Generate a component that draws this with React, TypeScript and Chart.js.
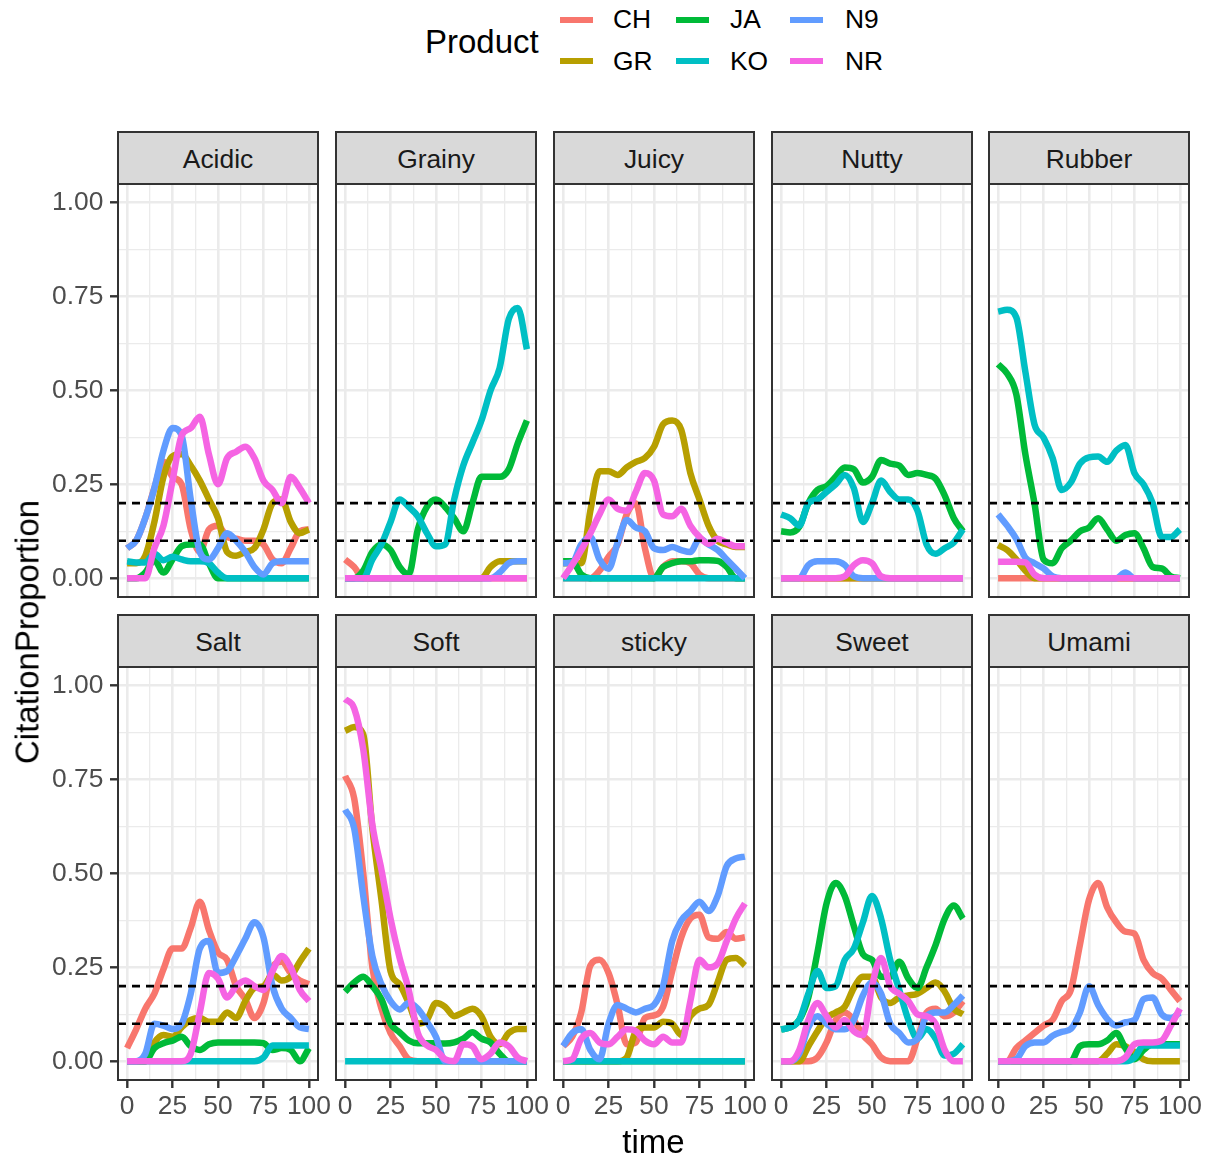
import React, { useEffect, useRef } from "react";
import { Chart, registerables } from "chart.js";

Chart.register(...registerables);

// ---- data -------------------------------------------------------------

const TIME = [0, 5, 10, 15, 20, 25, 30, 35, 40, 45, 50, 55, 60, 65, 70, 75, 80, 85, 90, 95, 100];

const PRODUCTS = ["CH", "GR", "JA", "KO", "N9", "NR"];
const PRODUCT_COLORS = ["#F8766D", "#B79F00", "#00BA38", "#00BFC4", "#619CFF", "#F564E3"];

const ATTRIBUTES = ["Acidic", "Grainy", "Juicy", "Nutty", "Rubber", "Salt", "Soft", "sticky", "Sweet", "Umami"];

// reference levels drawn as dashed lines in every panel
const THRESHOLDS = [0.1, 0.2];

const X_TICKS = [0, 25, 50, 75, 100];
const X_GRID = [0, 12.5, 25, 37.5, 50, 62.5, 75, 87.5, 100];
const Y_TICKS = [0, 0.25, 0.5, 0.75, 1];
const Y_GRID = [0, 0.125, 0.25, 0.375, 0.5, 0.625, 0.75, 0.875, 1];

// Acidic
const acidicCH = [0.08, 0.10, 0.16, 0.24, 0.31, 0.27, 0.25, 0.13, 0.07, 0.13, 0.14, 0.11, 0.105, 0.10, 0.10, 0.09, 0.05, 0.04, 0.08, 0.125, 0.13];
const acidicGR = [0.04, 0.04, 0.06, 0.15, 0.27, 0.325, 0.33, 0.30, 0.26, 0.21, 0.16, 0.07, 0.06, 0.07, 0.08, 0.13, 0.20, 0.21, 0.15, 0.12, 0.13];
const acidicJA = [0, 0, 0.015, 0.048, 0.015, 0.05, 0.085, 0.09, 0.09, 0.04, 0, 0, 0, 0, 0, 0, 0, 0, 0, 0, 0];
const acidicKO = [0.045, 0.042, 0.042, 0.065, 0.048, 0.057, 0.05, 0.045, 0.045, 0.04, 0.015, 0, 0, 0, 0, 0, 0, 0, 0, 0, 0];
const acidicN9 = [0.08, 0.10, 0.16, 0.24, 0.34, 0.40, 0.38, 0.21, 0.07, 0.05, 0.08, 0.12, 0.10, 0.07, 0.03, 0.01, 0.04, 0.045, 0.045, 0.045, 0.045];
const acidicNR = [0, 0, 0, 0.08, 0.14, 0.26, 0.38, 0.40, 0.43, 0.33, 0.25, 0.32, 0.337, 0.35, 0.32, 0.26, 0.235, 0.20, 0.27, 0.24, 0.20];

// Grainy
const grainyCH = [0.05, 0.03, 0, 0, 0, 0, 0, 0, 0, 0, 0, 0, 0, 0, 0, 0, 0, 0, 0, 0, 0];
const grainyGR = [0, 0, 0, 0, 0, 0, 0, 0, 0, 0, 0, 0, 0, 0, 0, 0, 0.03, 0.045, 0.045, 0.045, 0.045];
const grainyJA = [0, 0, 0.02, 0.07, 0.09, 0.075, 0.03, 0.01, 0.13, 0.19, 0.21, 0.19, 0.16, 0.125, 0.20, 0.27, 0.27, 0.27, 0.29, 0.36, 0.42];
const grainyKO = [0, 0, 0, 0.05, 0.09, 0.15, 0.21, 0.19, 0.165, 0.12, 0.085, 0.09, 0.21, 0.30, 0.36, 0.42, 0.50, 0.56, 0.69, 0.72, 0.61];
const grainyN9 = [0, 0, 0, 0, 0, 0, 0, 0, 0, 0, 0, 0, 0, 0, 0, 0, 0, 0.015, 0.04, 0.045, 0.045];
const grainyNR = [0, 0, 0, 0, 0, 0, 0, 0, 0, 0, 0, 0, 0, 0, 0, 0, 0, 0, 0, 0, 0];

// Juicy
const juicyCH = [0, 0, 0, 0, 0.02, 0.057, 0.09, 0.17, 0.20, 0.08, 0, 0.03, 0.045, 0.045, 0.04, 0.01, 0, 0, 0, 0, 0];
const juicyGR = [0.04, 0.04, 0.04, 0.18, 0.285, 0.285, 0.275, 0.295, 0.31, 0.32, 0.35, 0.41, 0.42, 0.395, 0.28, 0.21, 0.14, 0.10, 0.09, 0.083, 0.083];
const juicyJA = [0.045, 0.045, 0.01, 0, 0, 0, 0, 0, 0, 0, 0, 0.03, 0.04, 0.045, 0.045, 0.048, 0.048, 0.046, 0.03, 0, 0];
const juicyKO = [0, 0, 0, 0, 0, 0, 0, 0, 0, 0, 0, 0, 0, 0, 0, 0, 0, 0, 0, 0, 0];
const juicyN9 = [0.04, 0.042, 0.09, 0.11, 0.05, 0.025, 0.095, 0.155, 0.135, 0.125, 0.08, 0.075, 0.083, 0.075, 0.07, 0.105, 0.09, 0.075, 0.05, 0.025, 0];
const juicyNR = [0, 0.035, 0.075, 0.12, 0.17, 0.21, 0.185, 0.18, 0.23, 0.28, 0.26, 0.17, 0.165, 0.185, 0.14, 0.11, 0.092, 0.105, 0.095, 0.085, 0.085];

// Nutty
const nuttyCH = [0, 0, 0, 0, 0, 0, 0, 0, 0, 0, 0, 0, 0, 0, 0, 0, 0, 0, 0, 0, 0];
const nuttyGR = [0, 0, 0, 0, 0, 0, 0, 0, 0, 0, 0, 0, 0, 0, 0, 0, 0, 0, 0, 0, 0];
const nuttyJA = [0.125, 0.122, 0.137, 0.20, 0.235, 0.245, 0.27, 0.295, 0.29, 0.255, 0.27, 0.315, 0.305, 0.30, 0.275, 0.28, 0.275, 0.265, 0.22, 0.16, 0.125];
const nuttyKO = [0.17, 0.16, 0.14, 0.20, 0.21, 0.23, 0.25, 0.275, 0.24, 0.15, 0.20, 0.26, 0.23, 0.21, 0.21, 0.18, 0.09, 0.065, 0.08, 0.095, 0.13];
const nuttyN9 = [0, 0, 0, 0.035, 0.045, 0.045, 0.045, 0.035, 0.005, 0, 0, 0, 0, 0, 0, 0, 0, 0, 0, 0, 0];
const nuttyNR = [0, 0, 0, 0, 0, 0, 0, 0.005, 0.035, 0.048, 0.04, 0.005, 0, 0, 0, 0, 0, 0, 0, 0, 0];

// Rubber
const rubberCH = [0, 0, 0, 0, 0, 0, 0, 0, 0, 0, 0, 0, 0, 0, 0, 0, 0, 0, 0, 0, 0];
const rubberGR = [0.088, 0.075, 0.05, 0.02, 0, 0, 0, 0, 0, 0, 0, 0, 0, 0, 0, 0, 0, 0, 0, 0, 0];
const rubberJA = [0.57, 0.545, 0.49, 0.33, 0.20, 0.05, 0.04, 0.08, 0.10, 0.125, 0.135, 0.16, 0.13, 0.10, 0.115, 0.12, 0.08, 0.03, 0.026, 0.005, 0];
const rubberKO = [0.71, 0.715, 0.695, 0.55, 0.41, 0.375, 0.32, 0.235, 0.255, 0.305, 0.322, 0.324, 0.31, 0.34, 0.355, 0.28, 0.25, 0.20, 0.11, 0.11, 0.13];
const rubberN9 = [0.17, 0.14, 0.105, 0.055, 0.04, 0.026, 0.005, 0, 0, 0, 0, 0, 0, 0, 0.015, 0, 0, 0, 0, 0, 0];
const rubberNR = [0.044, 0.044, 0.044, 0.042, 0.01, 0, 0, 0, 0, 0, 0, 0, 0, 0, 0, 0, 0, 0, 0, 0, 0];

// Salt
const saltCH = [0.035, 0.085, 0.14, 0.18, 0.245, 0.30, 0.30, 0.355, 0.425, 0.35, 0.29, 0.27, 0.20, 0.165, 0.115, 0.155, 0.25, 0.265, 0.235, 0.215, 0.205];
const saltGR = [0, 0, 0, 0.05, 0.07, 0.065, 0.09, 0.11, 0.115, 0.105, 0.105, 0.13, 0.115, 0.16, 0.195, 0.20, 0.23, 0.215, 0.225, 0.265, 0.30];
const saltJA = [0, 0, 0, 0.035, 0.048, 0.055, 0.065, 0.04, 0.03, 0.045, 0.05, 0.05, 0.05, 0.05, 0.05, 0.048, 0.03, 0.035, 0.03, 0, 0.035];
const saltKO = [0, 0, 0, 0, 0, 0, 0, 0, 0, 0, 0, 0, 0, 0, 0, 0.01, 0.042, 0.042, 0.042, 0.042, 0.042];
const saltN9 = [0, 0, 0.02, 0.10, 0.095, 0.086, 0.10, 0.18, 0.30, 0.32, 0.235, 0.24, 0.28, 0.326, 0.37, 0.33, 0.20, 0.14, 0.115, 0.09, 0.086];
const saltNR = [0, 0, 0, 0, 0, 0, 0, 0.02, 0.13, 0.235, 0.22, 0.17, 0.20, 0.215, 0.20, 0.19, 0.24, 0.28, 0.25, 0.19, 0.16];

// Soft
const softCH = [0.76, 0.70, 0.50, 0.25, 0.14, 0.075, 0.04, 0.005, 0, 0, 0, 0, 0, 0, 0, 0, 0, 0, 0, 0, 0];
const softGR = [0.88, 0.89, 0.87, 0.62, 0.43, 0.24, 0.205, 0.155, 0.10, 0.11, 0.155, 0.145, 0.12, 0.13, 0.14, 0.12, 0.065, 0.045, 0.075, 0.086, 0.086];
const softJA = [0.185, 0.21, 0.225, 0.20, 0.165, 0.10, 0.077, 0.055, 0.048, 0.048, 0.048, 0.047, 0.05, 0.06, 0.077, 0.06, 0.05, 0.02, 0, 0, 0];
const softKO = [0, 0, 0, 0, 0, 0, 0, 0, 0, 0, 0, 0, 0, 0, 0, 0, 0, 0, 0, 0, 0];
const softN9 = [0.67, 0.62, 0.44, 0.28, 0.205, 0.16, 0.138, 0.155, 0.14, 0.105, 0.065, 0, 0, 0, 0, 0, 0, 0, 0, 0, 0];
const softNR = [0.965, 0.94, 0.83, 0.63, 0.51, 0.38, 0.275, 0.19, 0.075, 0.042, 0.03, 0.005, 0, 0.045, 0.04, 0.005, 0.02, 0.05, 0.04, 0.01, 0];

// sticky
const stickyCH = [0.04, 0.065, 0.13, 0.255, 0.27, 0.235, 0.15, 0.045, 0.05, 0.115, 0.122, 0.145, 0.24, 0.33, 0.38, 0.39, 0.33, 0.326, 0.344, 0.326, 0.33];
const stickyGR = [0, 0, 0, 0, 0, 0, 0, 0.01, 0.08, 0.09, 0.09, 0.105, 0.10, 0.07, 0.12, 0.14, 0.15, 0.21, 0.27, 0.275, 0.255];
const stickyJA = [0, 0, 0, 0, 0, 0, 0, 0, 0, 0, 0, 0, 0, 0, 0, 0, 0, 0, 0, 0, 0];
const stickyKO = [0, 0, 0, 0, 0, 0, 0, 0, 0, 0, 0, 0, 0, 0, 0, 0, 0, 0, 0, 0, 0];
const stickyN9 = [0.04, 0.075, 0.085, 0.03, 0.005, 0.10, 0.15, 0.14, 0.13, 0.14, 0.15, 0.20, 0.32, 0.375, 0.40, 0.425, 0.40, 0.44, 0.52, 0.54, 0.545];
const stickyNR = [0, 0.005, 0.06, 0.075, 0.05, 0.045, 0.065, 0.085, 0.08, 0.055, 0.045, 0.065, 0.05, 0.05, 0.16, 0.27, 0.25, 0.26, 0.32, 0.38, 0.42];

// Sweet
const sweetCH = [0, 0, 0, 0, 0.01, 0.05, 0.11, 0.13, 0.11, 0.07, 0.045, 0.01, 0, 0, 0, 0.06, 0.13, 0.14, 0.12, 0.13, 0.16];
const sweetGR = [0, 0, 0, 0.04, 0.08, 0.115, 0.13, 0.145, 0.195, 0.225, 0.225, 0.17, 0.155, 0.17, 0.175, 0.18, 0.195, 0.21, 0.185, 0.14, 0.125];
const sweetJA = [0.085, 0.09, 0.11, 0.17, 0.29, 0.42, 0.475, 0.44, 0.36, 0.285, 0.27, 0.225, 0.225, 0.265, 0.22, 0.195, 0.25, 0.31, 0.38, 0.415, 0.38];
const sweetKO = [0.085, 0.09, 0.11, 0.18, 0.24, 0.195, 0.20, 0.27, 0.30, 0.37, 0.44, 0.38, 0.27, 0.19, 0.11, 0.06, 0.086, 0.06, 0.015, 0.02, 0.045];
const sweetN9 = [0, 0, 0.02, 0.09, 0.12, 0.10, 0.085, 0.085, 0.11, 0.175, 0.21, 0.18, 0.10, 0.075, 0.05, 0.06, 0.12, 0.13, 0.13, 0.15, 0.175];
const sweetNR = [0, 0, 0.03, 0.11, 0.155, 0.12, 0.09, 0.11, 0.08, 0.07, 0.20, 0.275, 0.20, 0.18, 0.16, 0.125, 0.12, 0.10, 0.03, 0, 0];

// Umami
const umamiCH = [0, 0, 0.035, 0.055, 0.075, 0.095, 0.11, 0.16, 0.19, 0.31, 0.43, 0.475, 0.41, 0.37, 0.345, 0.34, 0.27, 0.235, 0.22, 0.19, 0.16];
const umamiGR = [0, 0, 0, 0, 0, 0, 0, 0, 0, 0, 0, 0, 0.02, 0.045, 0.04, 0.025, 0.005, 0, 0, 0, 0];
const umamiJA = [0, 0, 0, 0, 0, 0, 0, 0, 0, 0.04, 0.045, 0.045, 0.055, 0.075, 0.035, 0.005, 0.03, 0.045, 0.045, 0.045, 0.045];
const umamiKO = [0, 0, 0, 0, 0, 0, 0, 0, 0, 0, 0, 0, 0, 0, 0, 0.01, 0.042, 0.042, 0.042, 0.042, 0.042];
const umamiN9 = [0, 0, 0.005, 0.04, 0.05, 0.05, 0.068, 0.078, 0.086, 0.13, 0.20, 0.15, 0.113, 0.095, 0.104, 0.11, 0.165, 0.17, 0.125, 0.115, 0.13];
const umamiNR = [0, 0, 0, 0, 0, 0, 0, 0, 0, 0, 0, 0, 0, 0, 0.01, 0.045, 0.05, 0.05, 0.055, 0.095, 0.14];

// one row per attribute, one series per product (same order as PRODUCTS)
const SERIES_BY_ATTRIBUTE: number[][][] = [
  [acidicCH, acidicGR, acidicJA, acidicKO, acidicN9, acidicNR],
  [grainyCH, grainyGR, grainyJA, grainyKO, grainyN9, grainyNR],
  [juicyCH, juicyGR, juicyJA, juicyKO, juicyN9, juicyNR],
  [nuttyCH, nuttyGR, nuttyJA, nuttyKO, nuttyN9, nuttyNR],
  [rubberCH, rubberGR, rubberJA, rubberKO, rubberN9, rubberNR],
  [saltCH, saltGR, saltJA, saltKO, saltN9, saltNR],
  [softCH, softGR, softJA, softKO, softN9, softNR],
  [stickyCH, stickyGR, stickyJA, stickyKO, stickyN9, stickyNR],
  [sweetCH, sweetGR, sweetJA, sweetKO, sweetN9, sweetNR],
  [umamiCH, umamiGR, umamiJA, umamiKO, umamiN9, umamiNR],
];

// ---- layout -----------------------------------------------------------

const FONT = '"Liberation Sans", Arial, Helvetica, sans-serif';
const PLOT_LEFTS = [118, 336, 554, 772, 989];
const PLOT_TOPS = [184, 667];
const PLOT_W = 200;
const PLOT_H = 413;
const STRIP_H = 52;
const Y_AXIS_W = 78;
const X_AXIS_H = 52;
const SIDE_PAD = 26;
const X_MIN = -5;
const X_MAX = 105;
const Y_MIN = -0.05;
const Y_MAX = 1.05;

const GRID_COLOR = "#EBEBEB";
const FRAME_COLOR = "#333333";
const TICK_TEXT = "#4D4D4D";
const SERIES_WIDTH = 6.5;

function Panel({ index }: { index: number }) {
  const ref = useRef<HTMLCanvasElement | null>(null);
  const row = Math.floor(index / 5);
  const col = index % 5;
  const showY = col === 0;
  const showX = row === 1;
  const padL = showY ? 0 : showX ? SIDE_PAD : 0;
  const padR = showX ? SIDE_PAD : 0;
  const extraLeft = (showY ? Y_AXIS_W : 0) + padL;
  const width = extraLeft + PLOT_W + padR;
  const height = PLOT_H + (showX ? X_AXIS_H : 0);
  const left = PLOT_LEFTS[col] - extraLeft;
  const top = PLOT_TOPS[row];

  useEffect(() => {
    const canvas = ref.current;
    if (!canvas) return;
    const series = SERIES_BY_ATTRIBUTE[index];

    const datasets: any[] = PRODUCTS.map((p, i) => ({
      label: p,
      data: TIME.map((t, k) => ({ x: t, y: series[i][k] })),
      borderColor: PRODUCT_COLORS[i],
      backgroundColor: PRODUCT_COLORS[i],
      borderWidth: SERIES_WIDTH,
      pointRadius: 0,
      fill: false,
      cubicInterpolationMode: "monotone",
      borderJoinStyle: "round",
      borderCapStyle: "butt",
      order: PRODUCTS.length - i,
      clip: 0,
    }));
    THRESHOLDS.forEach((h) => {
      datasets.push({
        label: "threshold " + h,
        data: [
          { x: X_MIN, y: h },
          { x: X_MAX, y: h },
        ],
        borderColor: "#000000",
        borderWidth: 2.6,
        borderDash: [8, 6],
        pointRadius: 0,
        fill: false,
        order: 0,
        clip: 0,
      });
    });

    const isMajorX = (v: number) => X_TICKS.includes(v);
    const isMajorY = (v: number) => Y_TICKS.some((t) => Math.abs(t - v) < 1e-9);

    const chart = new Chart(canvas, {
      type: "line",
      data: { datasets },
      options: {
        responsive: false,
        animation: false,
        devicePixelRatio: 1,
        events: [],
        elements: { line: { borderWidth: SERIES_WIDTH } },
        layout: { autoPadding: false, padding: { left: padL, right: padR, top: 0, bottom: 0 } },
        plugins: { legend: { display: false }, tooltip: { enabled: false } },
        scales: {
          x: {
            type: "linear",
            min: X_MIN,
            max: X_MAX,
            afterBuildTicks: (s: any) => {
              s.ticks = X_GRID.map((v) => ({ value: v }));
            },
            afterFit: (s: any) => {
              s.height = showX ? X_AXIS_H : 0;
              s.paddingLeft = 0;
              s.paddingRight = 0;
            },
            ticks: {
              display: showX,
              autoSkip: false,
              maxRotation: 0,
              minRotation: 0,
              padding: 6,
              color: TICK_TEXT,
              font: { family: FONT, size: 26.4, lineHeight: 1 },
              callback: (v: any) => (isMajorX(Number(v)) ? String(v) : ""),
            },
            grid: {
              color: GRID_COLOR,
              lineWidth: (c: any) => (c.tick && isMajorX(c.tick.value) ? 2.6 : 1.3),
              drawTicks: showX,
              tickLength: 8,
              tickWidth: 2.4,
              tickColor: (c: any) => (c.tick && isMajorX(c.tick.value) ? FRAME_COLOR : "rgba(0,0,0,0)"),
            },
            border: { display: false },
          },
          y: {
            type: "linear",
            min: Y_MIN,
            max: Y_MAX,
            afterBuildTicks: (s: any) => {
              s.ticks = Y_GRID.map((v) => ({ value: v }));
            },
            afterFit: (s: any) => {
              s.width = showY ? Y_AXIS_W : 0;
              s.paddingTop = 0;
              s.paddingBottom = 0;
            },
            ticks: {
              display: showY,
              autoSkip: false,
              padding: 6.6,
              color: TICK_TEXT,
              font: { family: FONT, size: 26.4, lineHeight: 1 },
              callback: (v: any) => (isMajorY(Number(v)) ? Number(v).toFixed(2) : ""),
            },
            grid: {
              color: GRID_COLOR,
              lineWidth: (c: any) => (c.tick && isMajorY(c.tick.value) ? 2.6 : 1.3),
              drawTicks: showY,
              tickLength: 8,
              tickWidth: 2.4,
              tickColor: (c: any) => (c.tick && isMajorY(c.tick.value) ? FRAME_COLOR : "rgba(0,0,0,0)"),
            },
            border: { display: false },
          },
        },
      } as any,
    });
    return () => chart.destroy();
  }, [index]);

  return (
    <canvas
      ref={ref}
      width={width}
      height={height}
      style={{ position: "absolute", left, top, width, height }}
    />
  );
}

function StripAndFrame({ index }: { index: number }) {
  const row = Math.floor(index / 5);
  const col = index % 5;
  const x = PLOT_LEFTS[col];
  const y = PLOT_TOPS[row];
  return (
    <>
      <div
        style={{
          position: "absolute",
          left: x - 1,
          top: y - STRIP_H - 1,
          width: PLOT_W + 2,
          height: STRIP_H + 2,
          boxSizing: "border-box",
          border: `2px solid ${FRAME_COLOR}`,
          background: "#D9D9D9",
          display: "flex",
          alignItems: "center",
          justifyContent: "center",
          paddingTop: 2,
          fontSize: 26.4,
          lineHeight: "26.4px",
          color: "#1A1A1A",
        }}
      >
        {ATTRIBUTES[index]}
      </div>
      <div
        style={{
          position: "absolute",
          left: x - 1,
          top: y - 1,
          width: PLOT_W + 2,
          height: PLOT_H + 2,
          boxSizing: "border-box",
          border: `2px solid ${FRAME_COLOR}`,
          pointerEvents: "none",
        }}
      />
    </>
  );
}

// legend entries are laid out two per column
const LEGEND_KEY_LEFTS = [560, 676, 790];
const LEGEND_LABEL_LEFTS = [613, 730, 845];
const LEGEND_ROW_CENTERS = [19.5, 61];

function Legend() {
  return (
    <>
      <div
        style={{
          position: "absolute",
          left: 425,
          top: 25,
          fontSize: 33,
          lineHeight: "33px",
          color: "#000",
          whiteSpace: "nowrap",
        }}
      >
        Product
      </div>
      {PRODUCTS.map((p, i) => {
        const c = Math.floor(i / 2);
        const r = i % 2;
        const cy = LEGEND_ROW_CENTERS[r];
        return (
          <React.Fragment key={p}>
            <div
              style={{
                position: "absolute",
                left: LEGEND_KEY_LEFTS[c],
                top: cy - 3,
                width: 33,
                height: 6,
                background: PRODUCT_COLORS[i],
              }}
            />
            <div
              style={{
                position: "absolute",
                left: LEGEND_LABEL_LEFTS[c],
                top: cy - 13.2,
                fontSize: 26.4,
                lineHeight: "26.4px",
                color: "#000",
                whiteSpace: "nowrap",
              }}
            >
              {p}
            </div>
          </React.Fragment>
        );
      })}
    </>
  );
}

export default function App() {
  return (
    <div
      style={{
        position: "absolute",
        left: 0,
        top: 0,
        width: 1215,
        height: 1162,
        background: "#FFFFFF",
        fontFamily: FONT,
        overflow: "hidden",
      }}
    >
      {ATTRIBUTES.map((a, i) => (
        <Panel key={a} index={i} />
      ))}
      {ATTRIBUTES.map((a, i) => (
        <StripAndFrame key={"s" + a} index={i} />
      ))}
      <Legend />
      <div
        style={{
          position: "absolute",
          left: 653.5,
          top: 1125,
          transform: "translateX(-50%)",
          fontSize: 33,
          lineHeight: "33px",
          color: "#000",
          whiteSpace: "nowrap",
        }}
      >
        time
      </div>
      <div
        style={{
          position: "absolute",
          left: 27,
          top: 632,
          transform: "translate(-50%, -50%) rotate(-90deg)",
          fontSize: 33,
          lineHeight: "33px",
          color: "#000",
          whiteSpace: "nowrap",
        }}
      >
        CitationProportion
      </div>
    </div>
  );
}
